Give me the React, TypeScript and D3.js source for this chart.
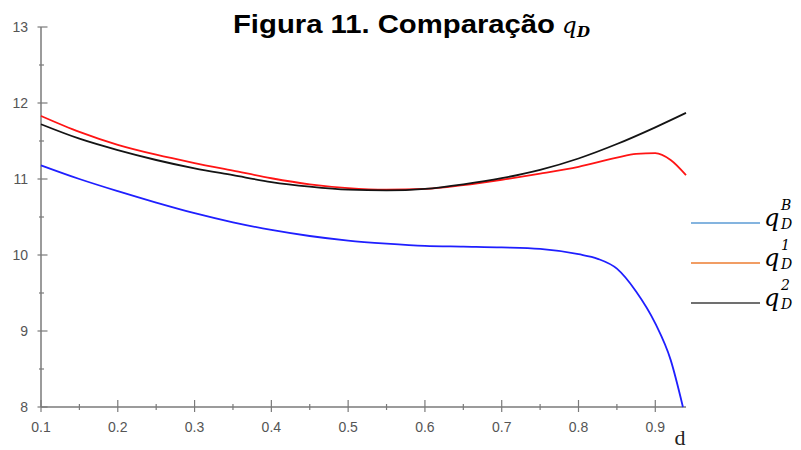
import * as d3 from "d3";

const dBlue = [0.1, 0.15, 0.2, 0.25, 0.3, 0.35, 0.4, 0.45, 0.5, 0.55, 0.6, 0.65, 0.7, 0.75, 0.8, 0.825, 0.85, 0.875, 0.9, 0.92, 0.936];
const qB = [11.18, 11.0, 10.84, 10.69, 10.55, 10.43, 10.33, 10.25, 10.19, 10.15, 10.12, 10.11, 10.1, 10.08, 10.01, 9.95, 9.82, 9.52, 9.1, 8.62, 8.0];

const dRed = [0.1, 0.15, 0.2, 0.25, 0.3, 0.35, 0.4, 0.45, 0.5, 0.55, 0.6, 0.65, 0.7, 0.75, 0.8, 0.85, 0.875, 0.9, 0.92, 0.94];
const q1 = [11.83, 11.62, 11.45, 11.32, 11.21, 11.11, 11.01, 10.93, 10.88, 10.86, 10.87, 10.92, 10.99, 11.07, 11.16, 11.28, 11.33, 11.34, 11.25, 11.05];

const dBlack = [0.1, 0.15, 0.2, 0.25, 0.3, 0.35, 0.4, 0.45, 0.5, 0.55, 0.6, 0.65, 0.7, 0.75, 0.8, 0.85, 0.9, 0.94];
const q2 = [11.72, 11.53, 11.38, 11.25, 11.14, 11.05, 10.96, 10.9, 10.86, 10.85, 10.87, 10.93, 11.01, 11.12, 11.27, 11.46, 11.68, 11.87];

const xTicks = [0.1, 0.2, 0.3, 0.4, 0.5, 0.6, 0.7, 0.8, 0.9];
const xMinor = [0.15, 0.25, 0.35, 0.45, 0.55, 0.65, 0.75, 0.85];
const yTicks = [8, 9, 10, 11, 12, 13];
const yMinor = [8.5, 9.5, 10.5, 11.5, 12.5];

const legend = [
  { sup: "B", color: "#5b9bd5" },
  { sup: "1", color: "#ed7d31" },
  { sup: "2", color: "#404040" },
];

export default function App() {
  const x = d3.scaleLinear().domain([0.1, 0.94]).range([41, 686]);
  const y = d3.scaleLinear().domain([8, 13]).range([407, 27]);

  const line = d3
    .line<[number, number]>()
    .x((p) => x(p[0]))
    .y((p) => y(p[1]))
    .curve(d3.curveMonotoneX);

  const series = [
    { d: dBlue, v: qB, color: "#1f1fff" },
    { d: dRed, v: q1, color: "#ff1414" },
    { d: dBlack, v: q2, color: "#141414" },
  ];

  const axisColor = "#7a7a7a";
  const tickFont = "'Liberation Sans', Arial, sans-serif";
  const mathFont = "'DejaVu Serif', serif";

  return (
    <svg
      width={801}
      height={450}
      style={{ position: "absolute", left: 0, top: 0, background: "#fff" }}
    >
      {/* title */}
      <text
        x={233}
        y={33}
        fontFamily="'Liberation Sans', Arial, sans-serif"
        fontWeight="bold"
        fontSize={25}
        fill="#000"
        textLength={322}
        lengthAdjust="spacingAndGlyphs"
      >
        Figura 11. Comparação
      </text>
      <text x={562} y={33} fontFamily={mathFont} fontStyle="italic" fontSize={23} fill="#000">
        q
      </text>
      <text x={577} y={37} fontFamily={mathFont} fontStyle="italic" fontWeight="bold" fontSize={15} fill="#000">
        D
      </text>

      {/* axes */}
      <line x1={41} x2={41} y1={y(13)} y2={y(8)} stroke={axisColor} strokeWidth={1.5} />
      <line x1={41} x2={x(0.94)} y1={y(8)} y2={y(8)} stroke={axisColor} strokeWidth={1.5} />

      {yTicks.map((t) => (
        <g key={"y" + t}>
          <line x1={37.5} x2={47.5} y1={y(t)} y2={y(t)} stroke={axisColor} strokeWidth={1.2} />
          <text x={28} y={y(t) + 5} textAnchor="end" fontFamily={tickFont} fontSize={14} fill="#555">
            {t}
          </text>
        </g>
      ))}
      {yMinor.map((t) => (
        <line key={"ym" + t} x1={39} x2={44} y1={y(t)} y2={y(t)} stroke={axisColor} strokeWidth={1.2} />
      ))}

      {xTicks.map((t) => (
        <g key={"x" + t}>
          <line x1={x(t)} x2={x(t)} y1={y(8) - 7} y2={y(8) + 5} stroke={axisColor} strokeWidth={1.2} />
          <text x={x(t)} y={432} textAnchor="middle" fontFamily={tickFont} fontSize={14} fill="#555">
            {t.toFixed(1)}
          </text>
        </g>
      ))}
      {xMinor.map((t) => (
        <line key={"xm" + t} x1={x(t)} x2={x(t)} y1={y(8) - 3} y2={y(8) + 3} stroke={axisColor} strokeWidth={1.2} />
      ))}

      <text x={680} y={445} textAnchor="middle" fontFamily="'Liberation Serif', serif" fontSize={22} fill="#222">
        d
      </text>

      {/* curves */}
      {series.map((s, i) => (
        <path
          key={i}
          d={line(s.d.map((dv, j) => [dv, s.v[j]] as [number, number])) || ""}
          fill="none"
          stroke={s.color}
          strokeWidth={1.8}
        />
      ))}

      {/* legend */}
      {legend.map((l, i) => (
        <g key={"lg" + i}>
          <line x1={691} x2={760} y1={223 + 40 * i} y2={223 + 40 * i} stroke={l.color} strokeWidth={1.5} />
          <text x={764} y={226 + 40 * i} fontFamily={mathFont} fontStyle="italic" fontSize={24} fill="#000">
            q
          </text>
          <text x={781} y={210 + 40 * i} fontFamily={mathFont} fontStyle="italic" fontSize={14} fill="#000">
            {l.sup}
          </text>
          <text x={781} y={229 + 40 * i} fontFamily={mathFont} fontStyle="italic" fontSize={14} fill="#000">
            D
          </text>
        </g>
      ))}
    </svg>
  );
}
